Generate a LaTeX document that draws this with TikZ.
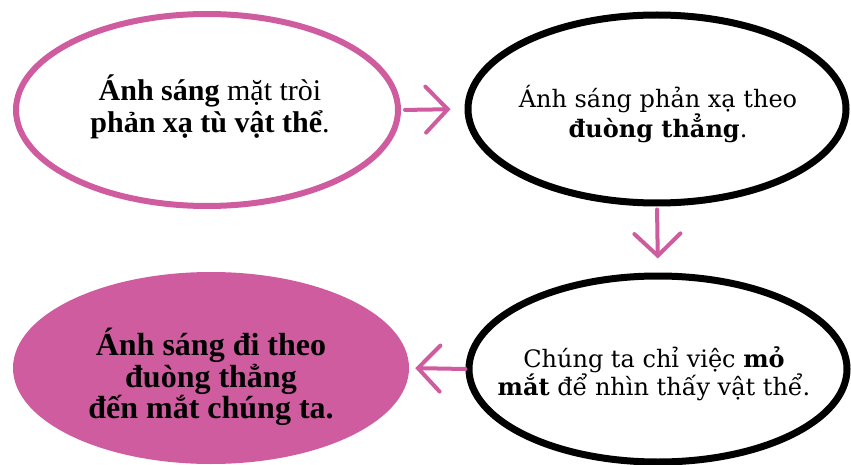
\documentclass[tikz,border=0pt]{standalone}
\usepackage{fontspec}
\setmainfont{Liberation Serif}
\newfontfamily\djserif{DejaVu Serif}
\usetikzlibrary{shapes.geometric,arrows.meta}
\definecolor{pinkc}{RGB}{208,92,160}
\tikzset{
  bubble/.style={ellipse, inner sep=0pt},
  bubbletext/.style={inner sep=0pt, align=center, text=black},
  pinkline/.style={draw=pinkc, line width=6pt},
  blackline/.style={draw=black, line width=7pt},
  flowarrow/.style={draw=pinkc, line width=4pt, line cap=round,
    -{Straight Barb[length=22pt,width=46pt,line cap=round]}}
}
\begin{document}
\begin{tikzpicture}[x=1pt,y=-1pt]
\useasboundingbox (0,0) rectangle (851,465);
\node[bubble, pinkline, minimum width=382pt, minimum height=192pt] (e1) at (207,110) {};
\node[bubble, blackline, minimum width=378pt, minimum height=188pt] (e2) at (657,109) {};
\node[bubble, fill=pinkc, minimum width=396pt, minimum height=192pt] (e3) at (211,368) {};
\node[bubble, blackline, minimum width=378pt, minimum height=186pt] (e4) at (658,369) {};
\node[bubbletext, font=\fontsize{30}{32}\selectfont] (t1) at (210,107)
  {\textbf{Ánh sáng} mặt tròi\\ \textbf{phản xạ tù vật thể}.};
\node[bubbletext, font=\djserif\fontsize{24}{26}\selectfont] (t2) at (658,114)
  {Ánh sáng phản xạ theo\\ \textbf{đuòng thẳng}.};
\node[bubbletext, font=\bfseries\fontsize{32}{30}\selectfont] (t3) at (211,377)
  {Ánh sáng đi theo\\ đuòng thẳng\\ đến mắt chúng ta.};
\node[bubbletext, font=\djserif\fontsize{24}{25}\selectfont] (t4) at (654,374)
  {Chúng ta chỉ việc \textbf{mỏ}\\ \textbf{mắt} để nhìn thấy vật thể.};
\draw[flowarrow, shorten <=4pt, shorten >=14pt] (e1.east) -- (e2.west);
\draw[flowarrow, shorten <=3pt, shorten >=14pt] (e2.south) -- (e4.north);
\draw[flowarrow, shorten <=0pt, shorten >=6pt] (e4.west) -- (e3.east);
\end{tikzpicture}
\end{document}
